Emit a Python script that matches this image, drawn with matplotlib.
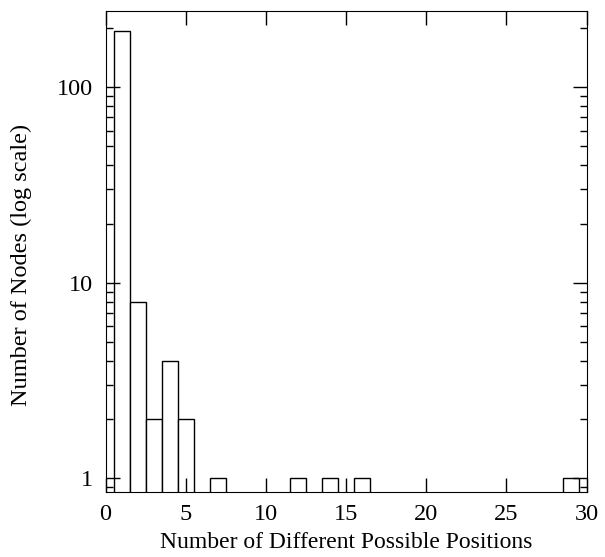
import numpy as np
import matplotlib.pyplot as plt

plt.rcParams['font.family'] = 'Liberation Serif'

positions = [1, 2, 3, 4, 5, 7, 12, 14, 16, 29]
counts = [193, 8, 2, 4, 2, 1, 1, 1, 1, 1]

fig = plt.figure(figsize=(6.05, 5.57), dpi=100)
ax = fig.add_axes([0.1744, 0.1172, 0.7953, 0.8636])

base = 0.1
ax.bar(positions, np.array(counts) - base, width=1.0, bottom=base, color='white',
       edgecolor='black', linewidth=1.0)

ax.set_yscale('log')
ax.set_xlim(0, 30)
ax.set_ylim(0.854, 246)
ax.set_xticks([0, 5, 10, 15, 20, 25, 30])
ax.set_yticks([1, 10, 100])
ax.set_yticklabels(['1', '10', '100'])

ax.tick_params(axis='both', which='major', direction='in', length=10, width=1,
               top=True, right=True, labelsize=17.5, pad=9)
ax.tick_params(axis='both', which='minor', direction='in', length=5, width=1,
               top=True, right=True)
ax.tick_params(axis='x', which='minor', top=False, bottom=False)

ax.set_xlabel('Number of Different Possible Positions', fontsize=17, labelpad=5)
ax.set_ylabel('Number of Nodes (log scale)', fontsize=17.5)
ax.yaxis.set_label_coords(-0.153, 0.471)

fig.savefig('out.png', dpi=100)
